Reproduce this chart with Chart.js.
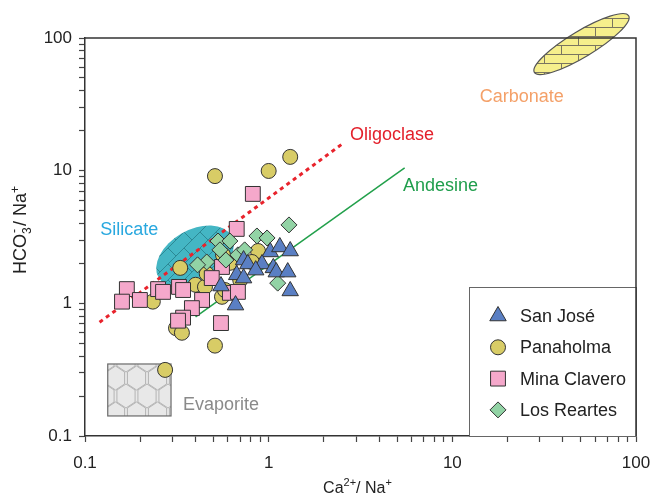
<!DOCTYPE html>
<html>
<head>
<meta charset="utf-8">
<script src="https://cdn.jsdelivr.net/npm/chart.js@4/dist/chart.umd.min.js"></script>
<style>
body{margin:0;background:#fff;}
canvas{display:block;}
</style>
</head>
<body>
<canvas id="grafico" width="655" height="498"></canvas>
<script>
// valores (Ca/Na vs HCO3/Na, escala log)
const tickLabels=[0.1,1,10,100];
const groupNames=["San José","Panaholma","Mina Clavero","Los Reartes"];

const sanJoseX=[1.02,1.15,1.31,0.92,1.06,1.10,1.27,1.31,0.73,0.77,0.67,0.73,0.55,0.66,0.85];
const sanJoseY=[2.44,2.66,2.48,1.98,1.85,1.72,1.72,1.24,2.12,1.98,1.64,1.55,1.35,0.97,1.78];

const panaholmaX=[0.51,1.0,1.31,0.33,0.234,0.313,0.337,0.51,0.273,0.40,0.45,0.557,0.875,0.81,0.615,0.46,0.564,0.70,0.578];
const panaholmaY=[9.1,9.95,12.7,1.85,1.03,0.65,0.60,0.48,0.315,1.38,1.33,1.12,2.48,2.05,2.02,1.67,2.32,1.50,1.26];

const minaX=[0.82,0.67,0.169,0.159,0.199,0.25,0.266,0.325,0.342,0.434,0.382,0.342,0.321,0.55,0.615,0.68,0.557,0.49];
const minaY=[6.68,3.64,1.28,1.03,1.06,1.28,1.22,1.33,1.26,1.06,0.92,0.78,0.74,0.71,1.20,1.22,1.88,1.55];

const reartesX=[1.29,0.863,0.98,0.53,0.615,0.543,0.68,0.585,0.46,0.41,1.12,0.74];
const reartesY=[3.90,3.22,3.11,2.95,2.95,2.53,2.32,2.12,2.05,1.95,1.42,2.53];

const oligoclaseX=[0.12,2.5];
const oligoclaseY=[0.72,15.8];
const andesineX=[0.4,5.5];
const andesineY=[0.79,10.5];

// campos (centros em valores dos eixos)
const silicato={x:0.397,y:2.24};
const carbonato={x:50.5,y:90};
const evaporitoX=[0.133,0.294];
const evaporitoY=[0.1416,0.349];

const rotulos=[
{t:"Silicate",x:0.121,y:3.57,cor:"#29a8df"},
{t:"Carbonate",x:14.1,y:35.9,cor:"#f4a068"},
{t:"Oligoclase",x:2.77,y:18.6,cor:"#e3202b"},
{t:"Andesine",x:5.38,y:7.67,cor:"#1f9e4c"},
{t:"Evaporite",x:0.342,y:0.171,cor:"#8a8a8a"}
];

const fonte="Liberation Sans, Arial, Helvetica, sans-serif";
const pares=(xs,ys)=>xs.map((x,i)=>({x:x,y:ys[i]}));

function tile(w,h,desenha){
const c=document.createElement("canvas");
c.width=w;c.height=h;
desenha(c.getContext("2d"),w,h);
return c;
}

const tijolo=tile(34,18,(g,w,h)=>{
g.fillStyle="#f6ef8c";g.fillRect(0,0,w,h);
g.strokeStyle="#7a7560";g.lineWidth=1;
g.beginPath();
g.moveTo(0,0.5);g.lineTo(w,0.5);
g.moveTo(0,9.5);g.lineTo(w,9.5);
g.moveTo(0.5,0);g.lineTo(0.5,9);
g.moveTo(17.5,9);g.lineTo(17.5,18);
g.stroke();
});

const hachura=tile(16,16,(g,w,h)=>{
g.fillStyle="#44b6c4";g.fillRect(0,0,w,h);
g.strokeStyle="#2c8894";g.lineWidth=1;
g.beginPath();
g.moveTo(0,16);g.lineTo(16,0);
g.moveTo(8,8);g.lineTo(16,16);
g.stroke();
});

const colmeia=tile(21,36,(g,w,h)=>{
g.fillStyle="#e8e8e8";g.fillRect(0,0,w,h);
g.strokeStyle="#b4b4b4";g.lineWidth=1;
const s=12;
for(let r=-1;r<=3;r++){
for(let c=-1;c<=2;c++){
const cx=c*w+(r%2?w/2:0),cy=r*1.5*s;
g.beginPath();
for(let k=0;k<6;k++){
const a=(-90+60*k)*Math.PI/180;
const px=cx+s*Math.cos(a)*0.875,py=cy+s*Math.sin(a);
k?g.lineTo(px,py):g.moveTo(px,py);
}
g.closePath();g.stroke();
}
}
});

function desenhaMarcador(ctx,estilo,x,y,r){
if(Chart.helpers&&Chart.helpers.drawPoint){
Chart.helpers.drawPoint(ctx,{pointStyle:estilo,rotation:0,radius:r,borderWidth:1},x,y);
return;
}
ctx.beginPath();
if(estilo==="circle")ctx.arc(x,y,r,0,2*Math.PI);
else if(estilo==="rect"){const s=r*Math.SQRT1_2;ctx.rect(x-s,y-s,2*s,2*s);}
else if(estilo==="rectRot"){ctx.moveTo(x,y-r);ctx.lineTo(x+r,y);ctx.lineTo(x,y+r);ctx.lineTo(x-r,y);ctx.closePath();}
else{ctx.moveTo(x,y-r);ctx.lineTo(x+r*0.866,y+r/2);ctx.lineTo(x-r*0.866,y+r/2);ctx.closePath();}
ctx.fill();ctx.stroke();
}

// texto com sobrescritos; tam = fonte normal, pq = fonte pequena
function textoComposto(ctx,partes,x,y,tam,pq){
let tot=0;
partes.forEach(p=>{ctx.font=(p.s?pq:tam)+"px "+fonte;p.w=ctx.measureText(p.t).width+(p.g||0);tot+=p.w;});
let cx=x-tot/2;
partes.forEach(p=>{
ctx.font=(p.s?pq:tam)+"px "+fonte;
ctx.fillText(p.t,cx,y+(p.s||0));
if(p.extra)ctx.fillText(p.extra.t,cx+1,y+p.extra.s);
cx+=p.w;
});
}

const estilos=[
{nome:groupNames[0],estilo:"triangle",r:9.5,cor:"#5a7fc3",dados:pares(sanJoseX,sanJoseY),ordem:1},
{nome:groupNames[1],estilo:"circle",r:7.5,cor:"#d8cc66",dados:pares(panaholmaX,panaholmaY),ordem:4},
{nome:groupNames[2],estilo:"rect",r:10.5,cor:"#f5a8cb",dados:pares(minaX,minaY),ordem:3},
{nome:groupNames[3],estilo:"rectRot",r:8,cor:"#92d3a5",dados:pares(reartesX,reartesY),ordem:2}
];

const campos={
id:"campos",
beforeDatasetsDraw(chart){
const ctx=chart.ctx,sx=chart.scales.x,sy=chart.scales.y;
ctx.save();
// silicato
ctx.beginPath();
ctx.ellipse(sx.getPixelForValue(silicato.x),sy.getPixelForValue(silicato.y),42,27,-30*Math.PI/180,0,2*Math.PI);
ctx.fillStyle=ctx.createPattern(hachura,"repeat");ctx.fill();
// evaporito
const ex0=sx.getPixelForValue(evaporitoX[0]),ex1=sx.getPixelForValue(evaporitoX[1]);
const ey0=sy.getPixelForValue(evaporitoY[1]),ey1=sy.getPixelForValue(evaporitoY[0]);
ctx.fillStyle=ctx.createPattern(colmeia,"repeat");
ctx.fillRect(ex0,ey0,ex1-ex0,ey1-ey0);
ctx.strokeStyle="#6a6a6a";ctx.lineWidth=1.2;
ctx.strokeRect(ex0,ey0,ex1-ex0,ey1-ey0);
// carbonato
ctx.beginPath();
ctx.ellipse(sx.getPixelForValue(carbonato.x),sy.getPixelForValue(carbonato.y),55,13,-31*Math.PI/180,0,2*Math.PI);
ctx.fillStyle=ctx.createPattern(tijolo,"repeat");ctx.fill();
ctx.strokeStyle="#555";ctx.lineWidth=1.2;ctx.stroke();
ctx.restore();
},
afterDatasetsDraw(chart){
const ctx=chart.ctx,sx=chart.scales.x,sy=chart.scales.y,a=chart.chartArea;
ctx.save();
ctx.textBaseline="middle";ctx.textAlign="left";
ctx.font="18px "+fonte;
rotulos.forEach(r=>{ctx.fillStyle=r.cor;ctx.fillText(r.t,sx.getPixelForValue(r.x),sy.getPixelForValue(r.y));});
// legenda
const lx=a.right-167,ly=a.bottom-149;
ctx.fillStyle="#fff";ctx.fillRect(lx,ly,a.right-lx,a.bottom-ly);
ctx.strokeStyle="#666";ctx.lineWidth=1;
ctx.strokeRect(lx+0.5,ly+0.5,a.right-lx,a.bottom-ly);
estilos.forEach((e,i)=>{
const y=ly+29+i*31.3;
ctx.fillStyle=e.cor;ctx.strokeStyle="#333";ctx.lineWidth=1;
desenhaMarcador(ctx,e.estilo,lx+29,y,e.r);
ctx.fillStyle="#222";ctx.font="18px "+fonte;ctx.textBaseline="middle";
ctx.fillText(e.nome,lx+51,y+1);
});
// moldura
ctx.strokeStyle="#333";ctx.lineWidth=1.5;
ctx.beginPath();
ctx.moveTo(a.left,a.top);ctx.lineTo(a.right,a.top);ctx.lineTo(a.right,a.bottom);
ctx.stroke();
// títulos dos eixos
ctx.fillStyle="#222";ctx.textBaseline="alphabetic";
textoComposto(ctx,[{t:"Ca"},{t:"2+",s:-7},{t:"/ Na"},{t:"+",s:-7}],(a.left+a.right)/2-3,493,16,11);
ctx.translate(26,230);ctx.rotate(-Math.PI/2);
textoComposto(ctx,[{t:"HCO"},{t:"3",s:5,g:1.5,extra:{t:"-",s:-8}},{t:"/ Na"},{t:"+",s:-7}],0,0,18,12);
ctx.restore();
}
};

const rotuloTick=v=>{
const t=tickLabels.find(t=>Math.abs(t-v)/t<1e-6);
return t===undefined?"":String(t);
};
const soInteiros=s=>{
s.ticks=s.ticks.filter(t=>{
const m=t.value/Math.pow(10,Math.floor(Math.log10(t.value)+1e-9));
return Math.abs(m-Math.round(m))<1e-6;
});
};

const eixo=(tam,lado)=>({
type:"logarithmic",min:0.1,max:100,
afterBuildTicks:soInteiros,
afterFit:s=>{
if(lado==="x")s.height=tam;else s.width=tam;
s.paddingLeft=0;s.paddingRight=0;s.paddingTop=0;s.paddingBottom=0;
},
ticks:{autoSkip:false,maxRotation:0,padding:lado==="x"?11:7,color:"#222",font:{family:fonte,size:17},callback:rotuloTick},
grid:{drawOnChartArea:false,drawTicks:true,tickLength:6,tickColor:"#444",tickWidth:1.2},
border:{display:true,color:"#333",width:1.5}
});

const datasets=estilos.map(e=>({
label:e.nome,data:e.dados,pointStyle:e.estilo,pointRadius:e.r,pointHoverRadius:e.r,
backgroundColor:e.cor,borderColor:"#333",borderWidth:1,order:e.ordem
}));
datasets.push({
type:"line",label:"Oligoclase",data:pares(oligoclaseX,oligoclaseY),showLine:true,
borderColor:"#e8232c",borderWidth:3,borderDash:[4,4],pointRadius:0,order:10
});
datasets.push({
type:"line",label:"Andesine",data:pares(andesineX,andesineY),showLine:true,
borderColor:"#22a04b",borderWidth:1.5,pointRadius:0,order:10
});

new Chart(document.getElementById("grafico"),{
type:"scatter",
data:{datasets:datasets},
options:{
responsive:false,
animation:false,
layout:{padding:{top:38,right:19,left:0,bottom:0}},
plugins:{legend:{display:false},tooltip:{enabled:false}},
scales:{x:eixo(62,"x"),y:eixo(85,"y")}
},
plugins:[campos]
});
</script>
</body>
</html>
